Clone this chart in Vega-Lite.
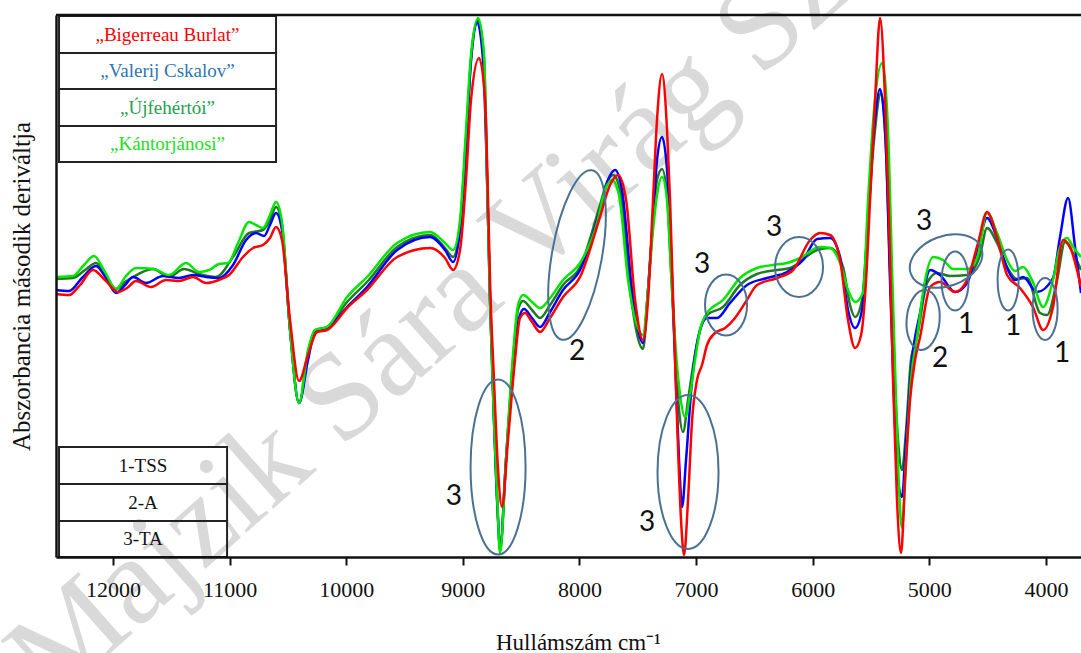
{
"$schema":"https://vega.github.io/schema/vega-lite/v6.json",
"width":1025,"height":542,"autosize":"none",
"padding":{"left":56,"top":15,"right":0,"bottom":96},
"background":"white",
"config":{"view":{"stroke":null}},
"encoding":{
 "x":{"field":"wn","type":"quantitative","scale":{"domain":[12489,3699],"nice":false,"zero":false},
  "axis":{"zindex":1,"values":[12000,11000,10000,9000,8000,7000,6000,5000,4000],"format":"d","grid":false,"domainColor":"#111","domainWidth":2.5,"tickColor":"#111","tickWidth":2,"tickSize":8,"labelFont":"Liberation Serif","labelFontSize":22,"labelColor":"#111","labelPadding":14,"title":"Hullámszám cm⁻¹","titleFont":"Liberation Serif","titleFontSize":23,"titleFontWeight":"normal","titleColor":"#111","titleX":522,"titleY":92,"titleBaseline":"alphabetic"}},
 "y":{"field":"val","type":"quantitative","scale":{"domain":[-267,275],"nice":false,"zero":false},
  "axis":{"zindex":1,"ticks":false,"labels":false,"grid":false,"domainColor":"#111","domainWidth":2.5,"title":"Abszorbancia második deriváltja","titleFont":"Liberation Serif","titleFontSize":25,"titleFontWeight":"normal","titleColor":"#111","titlePadding":22}}
},
"layer":[
 {"data":{"values":[{"wn":12738,"val":-386,"t":"Majzik Sára Virág Sz"}]},
  "mark":{"type":"text","align":"left","baseline":"middle","angle":-41.5,"font":"Liberation Serif","fontSize":125,"color":"#d9d9d9"},
  "encoding":{"text":{"field":"t"}}},
 {"data":{"values":[
{"s":"UJ","wn":12489,"val":11},{"s":"UJ","wn":12343,"val":12},{"s":"UJ","wn":12240,"val":20},{"s":"UJ","wn":12146,"val":27},{"s":"UJ","wn":12060,"val":14},{"s":"UJ","wn":11974,"val":1},{"s":"UJ","wn":11897,"val":8},{"s":"UJ","wn":11828,"val":13},{"s":"UJ","wn":11657,"val":21},{"s":"UJ","wn":11520,"val":13},{"s":"UJ","wn":11391,"val":21},{"s":"UJ","wn":11262,"val":16},{"s":"UJ","wn":11117,"val":13},{"s":"UJ","wn":10971,"val":33},{"s":"UJ","wn":10834,"val":57},{"s":"UJ","wn":10714,"val":60},{"s":"UJ","wn":10654,"val":70},{"s":"UJ","wn":10602,"val":83},{"s":"UJ","wn":10551,"val":65},{"s":"UJ","wn":10482,"val":-40},{"s":"UJ","wn":10405,"val":-113},{"s":"UJ","wn":10328,"val":-65},{"s":"UJ","wn":10268,"val":-40},{"s":"UJ","wn":10165,"val":-37},{"s":"UJ","wn":9993,"val":-12},{"s":"UJ","wn":9822,"val":8},{"s":"UJ","wn":9564,"val":43},{"s":"UJ","wn":9281,"val":55},{"s":"UJ","wn":9153,"val":42},{"s":"UJ","wn":9084,"val":33},{"s":"UJ","wn":9024,"val":65},{"s":"UJ","wn":8973,"val":150},{"s":"UJ","wn":8930,"val":230},{"s":"UJ","wn":8869,"val":270},{"s":"UJ","wn":8818,"val":230},{"s":"UJ","wn":8792,"val":110},{"s":"UJ","wn":8767,"val":-10},{"s":"UJ","wn":8733,"val":-130},{"s":"UJ","wn":8698,"val":-230},{"s":"UJ","wn":8681,"val":-261},{"s":"UJ","wn":8630,"val":-170},{"s":"UJ","wn":8570,"val":-70},{"s":"UJ","wn":8527,"val":-20},{"s":"UJ","wn":8484,"val":-11},{"s":"UJ","wn":8407,"val":-20},{"s":"UJ","wn":8338,"val":-28},{"s":"UJ","wn":8252,"val":-15},{"s":"UJ","wn":8141,"val":5},{"s":"UJ","wn":7995,"val":23},{"s":"UJ","wn":7824,"val":85},{"s":"UJ","wn":7764,"val":108},{"s":"UJ","wn":7712,"val":115},{"s":"UJ","wn":7652,"val":100},{"s":"UJ","wn":7566,"val":0},{"s":"UJ","wn":7455,"val":-59},{"s":"UJ","wn":7412,"val":0},{"s":"UJ","wn":7369,"val":70},{"s":"UJ","wn":7335,"val":110},{"s":"UJ","wn":7292,"val":121},{"s":"UJ","wn":7249,"val":95},{"s":"UJ","wn":7215,"val":20},{"s":"UJ","wn":7180,"val":-60},{"s":"UJ","wn":7146,"val":-120},{"s":"UJ","wn":7112,"val":-142},{"s":"UJ","wn":7069,"val":-110},{"s":"UJ","wn":7017,"val":-70},{"s":"UJ","wn":6966,"val":-40},{"s":"UJ","wn":6906,"val":-25},{"s":"UJ","wn":6769,"val":-17},{"s":"UJ","wn":6623,"val":5},{"s":"UJ","wn":6477,"val":16},{"s":"UJ","wn":6305,"val":20},{"s":"UJ","wn":6194,"val":22},{"s":"UJ","wn":5962,"val":40},{"s":"UJ","wn":5851,"val":42},{"s":"UJ","wn":5740,"val":23},{"s":"UJ","wn":5680,"val":-15},{"s":"UJ","wn":5637,"val":-27},{"s":"UJ","wn":5577,"val":-10},{"s":"UJ","wn":5525,"val":70},{"s":"UJ","wn":5474,"val":150},{"s":"UJ","wn":5414,"val":197},{"s":"UJ","wn":5371,"val":140},{"s":"UJ","wn":5337,"val":20},{"s":"UJ","wn":5302,"val":-80},{"s":"UJ","wn":5268,"val":-150},{"s":"UJ","wn":5234,"val":-180},{"s":"UJ","wn":5199,"val":-140},{"s":"UJ","wn":5157,"val":-70},{"s":"UJ","wn":5105,"val":-47},{"s":"UJ","wn":5019,"val":7},{"s":"UJ","wn":4933,"val":17},{"s":"UJ","wn":4822,"val":14},{"s":"UJ","wn":4676,"val":15},{"s":"UJ","wn":4565,"val":35},{"s":"UJ","wn":4505,"val":62},{"s":"UJ","wn":4419,"val":47},{"s":"UJ","wn":4333,"val":23},{"s":"UJ","wn":4248,"val":11},{"s":"UJ","wn":4162,"val":12},{"s":"UJ","wn":4050,"val":-23},{"s":"UJ","wn":3990,"val":-25},{"s":"UJ","wn":3904,"val":10},{"s":"UJ","wn":3836,"val":48},{"s":"UJ","wn":3767,"val":37},{"s":"UJ","wn":3699,"val":20},
{"s":"VC","wn":12489,"val":0},{"s":"VC","wn":12377,"val":-1},{"s":"VC","wn":12266,"val":12},{"s":"VC","wn":12146,"val":24},{"s":"VC","wn":12060,"val":12},{"s":"VC","wn":11974,"val":-3},{"s":"VC","wn":11897,"val":5},{"s":"VC","wn":11828,"val":13},{"s":"VC","wn":11717,"val":7},{"s":"VC","wn":11571,"val":14},{"s":"VC","wn":11434,"val":12},{"s":"VC","wn":11314,"val":15},{"s":"VC","wn":11202,"val":13},{"s":"VC","wn":11091,"val":12},{"s":"VC","wn":10971,"val":25},{"s":"VC","wn":10859,"val":50},{"s":"VC","wn":10774,"val":57},{"s":"VC","wn":10705,"val":54},{"s":"VC","wn":10654,"val":65},{"s":"VC","wn":10602,"val":77},{"s":"VC","wn":10551,"val":60},{"s":"VC","wn":10482,"val":-40},{"s":"VC","wn":10405,"val":-113},{"s":"VC","wn":10328,"val":-70},{"s":"VC","wn":10268,"val":-42},{"s":"VC","wn":10165,"val":-38},{"s":"VC","wn":9993,"val":-17},{"s":"VC","wn":9822,"val":3},{"s":"VC","wn":9564,"val":40},{"s":"VC","wn":9281,"val":53},{"s":"VC","wn":9153,"val":40},{"s":"VC","wn":9084,"val":28},{"s":"VC","wn":9024,"val":60},{"s":"VC","wn":8973,"val":140},{"s":"VC","wn":8930,"val":230},{"s":"VC","wn":8878,"val":268},{"s":"VC","wn":8827,"val":230},{"s":"VC","wn":8792,"val":110},{"s":"VC","wn":8767,"val":-10},{"s":"VC","wn":8733,"val":-130},{"s":"VC","wn":8698,"val":-230},{"s":"VC","wn":8681,"val":-258},{"s":"VC","wn":8630,"val":-170},{"s":"VC","wn":8570,"val":-80},{"s":"VC","wn":8518,"val":-28},{"s":"VC","wn":8476,"val":-19},{"s":"VC","wn":8407,"val":-28},{"s":"VC","wn":8338,"val":-37},{"s":"VC","wn":8252,"val":-22},{"s":"VC","wn":8141,"val":0},{"s":"VC","wn":7995,"val":20},{"s":"VC","wn":7824,"val":80},{"s":"VC","wn":7755,"val":110},{"s":"VC","wn":7695,"val":120},{"s":"VC","wn":7635,"val":100},{"s":"VC","wn":7549,"val":0},{"s":"VC","wn":7455,"val":-53},{"s":"VC","wn":7412,"val":0},{"s":"VC","wn":7369,"val":70},{"s":"VC","wn":7335,"val":130},{"s":"VC","wn":7292,"val":153},{"s":"VC","wn":7249,"val":120},{"s":"VC","wn":7215,"val":40},{"s":"VC","wn":7180,"val":-70},{"s":"VC","wn":7146,"val":-170},{"s":"VC","wn":7120,"val":-217},{"s":"VC","wn":7086,"val":-170},{"s":"VC","wn":7034,"val":-90},{"s":"VC","wn":6966,"val":-40},{"s":"VC","wn":6906,"val":-28},{"s":"VC","wn":6820,"val":-28},{"s":"VC","wn":6709,"val":-13},{"s":"VC","wn":6563,"val":5},{"s":"VC","wn":6391,"val":12},{"s":"VC","wn":6220,"val":18},{"s":"VC","wn":6082,"val":30},{"s":"VC","wn":5962,"val":51},{"s":"VC","wn":5851,"val":52},{"s":"VC","wn":5765,"val":33},{"s":"VC","wn":5697,"val":-20},{"s":"VC","wn":5637,"val":-38},{"s":"VC","wn":5577,"val":-20},{"s":"VC","wn":5525,"val":70},{"s":"VC","wn":5474,"val":160},{"s":"VC","wn":5422,"val":201},{"s":"VC","wn":5371,"val":140},{"s":"VC","wn":5337,"val":10},{"s":"VC","wn":5302,"val":-110},{"s":"VC","wn":5268,"val":-190},{"s":"VC","wn":5234,"val":-207},{"s":"VC","wn":5199,"val":-150},{"s":"VC","wn":5148,"val":-70},{"s":"VC","wn":5079,"val":-23},{"s":"VC","wn":4993,"val":20},{"s":"VC","wn":4908,"val":15},{"s":"VC","wn":4779,"val":-2},{"s":"VC","wn":4676,"val":7},{"s":"VC","wn":4582,"val":43},{"s":"VC","wn":4505,"val":72},{"s":"VC","wn":4419,"val":52},{"s":"VC","wn":4333,"val":22},{"s":"VC","wn":4265,"val":10},{"s":"VC","wn":4196,"val":13},{"s":"VC","wn":4076,"val":-2},{"s":"VC","wn":3939,"val":12},{"s":"VC","wn":3879,"val":53},{"s":"VC","wn":3810,"val":92},{"s":"VC","wn":3750,"val":43},{"s":"VC","wn":3699,"val":-3},
{"s":"KA","wn":12489,"val":13},{"s":"KA","wn":12343,"val":14},{"s":"KA","wn":12249,"val":25},{"s":"KA","wn":12163,"val":34},{"s":"KA","wn":12069,"val":18},{"s":"KA","wn":11974,"val":1},{"s":"KA","wn":11889,"val":14},{"s":"KA","wn":11803,"val":22},{"s":"KA","wn":11649,"val":21},{"s":"KA","wn":11520,"val":15},{"s":"KA","wn":11374,"val":27},{"s":"KA","wn":11262,"val":18},{"s":"KA","wn":11177,"val":20},{"s":"KA","wn":11091,"val":26},{"s":"KA","wn":11014,"val":27},{"s":"KA","wn":10928,"val":47},{"s":"KA","wn":10834,"val":68},{"s":"KA","wn":10774,"val":65},{"s":"KA","wn":10714,"val":62},{"s":"KA","wn":10654,"val":75},{"s":"KA","wn":10602,"val":88},{"s":"KA","wn":10551,"val":68},{"s":"KA","wn":10482,"val":-40},{"s":"KA","wn":10405,"val":-113},{"s":"KA","wn":10328,"val":-60},{"s":"KA","wn":10268,"val":-40},{"s":"KA","wn":10165,"val":-37},{"s":"KA","wn":9993,"val":-7},{"s":"KA","wn":9822,"val":13},{"s":"KA","wn":9564,"val":47},{"s":"KA","wn":9281,"val":58},{"s":"KA","wn":9153,"val":47},{"s":"KA","wn":9084,"val":40},{"s":"KA","wn":9024,"val":70},{"s":"KA","wn":8973,"val":160},{"s":"KA","wn":8930,"val":235},{"s":"KA","wn":8869,"val":272},{"s":"KA","wn":8818,"val":235},{"s":"KA","wn":8792,"val":110},{"s":"KA","wn":8767,"val":-10},{"s":"KA","wn":8733,"val":-130},{"s":"KA","wn":8698,"val":-230},{"s":"KA","wn":8681,"val":-263},{"s":"KA","wn":8630,"val":-170},{"s":"KA","wn":8570,"val":-65},{"s":"KA","wn":8527,"val":-15},{"s":"KA","wn":8484,"val":-5},{"s":"KA","wn":8407,"val":-12},{"s":"KA","wn":8338,"val":-18},{"s":"KA","wn":8252,"val":-8},{"s":"KA","wn":8141,"val":10},{"s":"KA","wn":7995,"val":27},{"s":"KA","wn":7849,"val":67},{"s":"KA","wn":7781,"val":100},{"s":"KA","wn":7721,"val":110},{"s":"KA","wn":7661,"val":95},{"s":"KA","wn":7583,"val":10},{"s":"KA","wn":7455,"val":-45},{"s":"KA","wn":7412,"val":0},{"s":"KA","wn":7369,"val":60},{"s":"KA","wn":7335,"val":95},{"s":"KA","wn":7292,"val":113},{"s":"KA","wn":7249,"val":90},{"s":"KA","wn":7215,"val":20},{"s":"KA","wn":7180,"val":-50},{"s":"KA","wn":7137,"val":-105},{"s":"KA","wn":7094,"val":-127},{"s":"KA","wn":7052,"val":-105},{"s":"KA","wn":7009,"val":-70},{"s":"KA","wn":6966,"val":-40},{"s":"KA","wn":6906,"val":-23},{"s":"KA","wn":6769,"val":-10},{"s":"KA","wn":6623,"val":12},{"s":"KA","wn":6477,"val":22},{"s":"KA","wn":6340,"val":25},{"s":"KA","wn":6220,"val":27},{"s":"KA","wn":6108,"val":32},{"s":"KA","wn":5937,"val":43},{"s":"KA","wn":5851,"val":42},{"s":"KA","wn":5765,"val":27},{"s":"KA","wn":5697,"val":0},{"s":"KA","wn":5637,"val":-12},{"s":"KA","wn":5569,"val":-3},{"s":"KA","wn":5525,"val":90},{"s":"KA","wn":5474,"val":180},{"s":"KA","wn":5405,"val":227},{"s":"KA","wn":5354,"val":160},{"s":"KA","wn":5319,"val":20},{"s":"KA","wn":5285,"val":-110},{"s":"KA","wn":5259,"val":-200},{"s":"KA","wn":5234,"val":-238},{"s":"KA","wn":5199,"val":-170},{"s":"KA","wn":5157,"val":-90},{"s":"KA","wn":5105,"val":-47},{"s":"KA","wn":5036,"val":10},{"s":"KA","wn":4968,"val":33},{"s":"KA","wn":4882,"val":30},{"s":"KA","wn":4796,"val":21},{"s":"KA","wn":4676,"val":21},{"s":"KA","wn":4590,"val":32},{"s":"KA","wn":4505,"val":77},{"s":"KA","wn":4419,"val":57},{"s":"KA","wn":4333,"val":30},{"s":"KA","wn":4265,"val":19},{"s":"KA","wn":4196,"val":23},{"s":"KA","wn":4119,"val":10},{"s":"KA","wn":4024,"val":-17},{"s":"KA","wn":3939,"val":10},{"s":"KA","wn":3879,"val":43},{"s":"KA","wn":3819,"val":52},{"s":"KA","wn":3767,"val":43},{"s":"KA","wn":3699,"val":33},
{"s":"BB","wn":12489,"val":-4},{"s":"BB","wn":12377,"val":-5},{"s":"BB","wn":12283,"val":5},{"s":"BB","wn":12172,"val":20},{"s":"BB","wn":12069,"val":10},{"s":"BB","wn":11957,"val":-2},{"s":"BB","wn":11880,"val":2},{"s":"BB","wn":11803,"val":9},{"s":"BB","wn":11674,"val":3},{"s":"BB","wn":11545,"val":10},{"s":"BB","wn":11434,"val":9},{"s":"BB","wn":11314,"val":13},{"s":"BB","wn":11202,"val":7},{"s":"BB","wn":11091,"val":10},{"s":"BB","wn":11005,"val":15},{"s":"BB","wn":10885,"val":33},{"s":"BB","wn":10799,"val":42},{"s":"BB","wn":10714,"val":45},{"s":"BB","wn":10654,"val":52},{"s":"BB","wn":10602,"val":63},{"s":"BB","wn":10551,"val":50},{"s":"BB","wn":10482,"val":-30},{"s":"BB","wn":10405,"val":-91},{"s":"BB","wn":10328,"val":-65},{"s":"BB","wn":10251,"val":-42},{"s":"BB","wn":10165,"val":-40},{"s":"BB","wn":9993,"val":-18},{"s":"BB","wn":9822,"val":0},{"s":"BB","wn":9564,"val":33},{"s":"BB","wn":9281,"val":42},{"s":"BB","wn":9153,"val":32},{"s":"BB","wn":9084,"val":20},{"s":"BB","wn":9024,"val":40},{"s":"BB","wn":8973,"val":110},{"s":"BB","wn":8930,"val":190},{"s":"BB","wn":8861,"val":232},{"s":"BB","wn":8809,"val":190},{"s":"BB","wn":8784,"val":90},{"s":"BB","wn":8767,"val":10},{"s":"BB","wn":8733,"val":-90},{"s":"BB","wn":8698,"val":-180},{"s":"BB","wn":8664,"val":-217},{"s":"BB","wn":8613,"val":-150},{"s":"BB","wn":8553,"val":-70},{"s":"BB","wn":8510,"val":-28},{"s":"BB","wn":8467,"val":-23},{"s":"BB","wn":8407,"val":-32},{"s":"BB","wn":8338,"val":-42},{"s":"BB","wn":8252,"val":-28},{"s":"BB","wn":8141,"val":-7},{"s":"BB","wn":7995,"val":13},{"s":"BB","wn":7824,"val":73},{"s":"BB","wn":7738,"val":105},{"s":"BB","wn":7669,"val":115},{"s":"BB","wn":7600,"val":90},{"s":"BB","wn":7523,"val":-10},{"s":"BB","wn":7455,"val":-50},{"s":"BB","wn":7412,"val":-10},{"s":"BB","wn":7369,"val":90},{"s":"BB","wn":7335,"val":170},{"s":"BB","wn":7292,"val":216},{"s":"BB","wn":7249,"val":160},{"s":"BB","wn":7223,"val":90},{"s":"BB","wn":7197,"val":-10},{"s":"BB","wn":7163,"val":-130},{"s":"BB","wn":7129,"val":-230},{"s":"BB","wn":7103,"val":-265},{"s":"BB","wn":7069,"val":-210},{"s":"BB","wn":7034,"val":-130},{"s":"BB","wn":6992,"val":-90},{"s":"BB","wn":6949,"val":-75},{"s":"BB","wn":6906,"val":-55},{"s":"BB","wn":6837,"val":-43},{"s":"BB","wn":6751,"val":-38},{"s":"BB","wn":6666,"val":-28},{"s":"BB","wn":6580,"val":-13},{"s":"BB","wn":6477,"val":5},{"s":"BB","wn":6305,"val":12},{"s":"BB","wn":6168,"val":20},{"s":"BB","wn":6022,"val":50},{"s":"BB","wn":5937,"val":57},{"s":"BB","wn":5851,"val":55},{"s":"BB","wn":5765,"val":30},{"s":"BB","wn":5697,"val":-30},{"s":"BB","wn":5637,"val":-58},{"s":"BB","wn":5585,"val":-45},{"s":"BB","wn":5542,"val":10},{"s":"BB","wn":5508,"val":90},{"s":"BB","wn":5465,"val":190},{"s":"BB","wn":5422,"val":272},{"s":"BB","wn":5379,"val":190},{"s":"BB","wn":5345,"val":70},{"s":"BB","wn":5311,"val":-90},{"s":"BB","wn":5277,"val":-210},{"s":"BB","wn":5242,"val":-263},{"s":"BB","wn":5208,"val":-190},{"s":"BB","wn":5165,"val":-110},{"s":"BB","wn":5122,"val":-70},{"s":"BB","wn":5079,"val":-47},{"s":"BB","wn":4993,"val":3},{"s":"BB","wn":4908,"val":8},{"s":"BB","wn":4779,"val":-2},{"s":"BB","wn":4676,"val":10},{"s":"BB","wn":4582,"val":47},{"s":"BB","wn":4505,"val":78},{"s":"BB","wn":4419,"val":53},{"s":"BB","wn":4333,"val":15},{"s":"BB","wn":4222,"val":2},{"s":"BB","wn":4111,"val":-17},{"s":"BB","wn":4024,"val":-40},{"s":"BB","wn":3939,"val":-17},{"s":"BB","wn":3853,"val":50},{"s":"BB","wn":3793,"val":43},{"s":"BB","wn":3699,"val":3}
 ]},
  "mark":{"type":"line","interpolate":"monotone","strokeWidth":2.5},
  "encoding":{"color":{"field":"s","type":"nominal","scale":{"domain":["UJ","VC","KA","BB"],"range":["#217a21","#0000ff","#00e600","#ff0000"]},"legend":null}}},
 {"data":{"values":[{"wn":8698,"val":-177}]},"mark":{"type":"point","shape":"M0,-87.5C15.19,-87.5 27.5,-48.33 27.5,0C27.5,48.33 15.19,87.5 0,87.5C-15.19,87.5 -27.5,48.33 -27.5,0C-27.5,-48.33 -15.19,-87.5 0,-87.5Z","size":4,"filled":false,"stroke":"#4a7194","strokeWidth":2,"opacity":1}},
 {"data":{"values":[{"wn":7069,"val":-182}]},"mark":{"type":"point","shape":"M0,-77C16.85,-77 30.5,-42.53 30.5,0C30.5,42.53 16.85,77 0,77C-16.85,77 -30.5,42.53 -30.5,0C-30.5,-42.53 -16.85,-77 0,-77Z","size":4,"filled":false,"stroke":"#4a7194","strokeWidth":2,"opacity":1}},
 {"data":{"values":[{"wn":8021,"val":35}]},"mark":{"type":"point","shape":"M0,-86C13.81,-86 25,-47.5 25,0C25,47.5 13.81,86 0,86C-13.81,86 -25,47.5 -25,0C-25,-47.5 -13.81,-86 0,-86Z","size":4,"angle":10,"filled":false,"stroke":"#4a7194","strokeWidth":2,"opacity":1}},
 {"data":{"values":[{"wn":6743,"val":-15}]},"mark":{"type":"point","shape":"M0,-30.5C11.6,-30.5 21,-16.85 21,0C21,16.85 11.6,30.5 0,30.5C-11.6,30.5 -21,16.85 -21,0C-21,-16.85 -11.6,-30.5 0,-30.5Z","size":4,"filled":false,"stroke":"#4a7194","strokeWidth":2,"opacity":1}},
 {"data":{"values":[{"wn":6117,"val":23}]},"mark":{"type":"point","shape":"M0,-30C13.26,-30 24,-16.57 24,0C24,16.57 13.26,30 0,30C-13.26,30 -24,16.57 -24,0C-24,-16.57 -13.26,-30 0,-30Z","size":4,"filled":false,"stroke":"#4a7194","strokeWidth":2,"opacity":1}},
 {"data":{"values":[{"wn":4856,"val":29}]},"mark":{"type":"point","shape":"M0,-37.5C13.81,-37.5 25,-20.71 25,0C25,20.71 13.81,37.5 0,37.5C-13.81,37.5 -25,20.71 -25,0C-25,-20.71 -13.81,-37.5 0,-37.5Z","size":4,"angle":70,"filled":false,"stroke":"#4a7194","strokeWidth":2,"opacity":1}},
 {"data":{"values":[{"wn":4779,"val":9}]},"mark":{"type":"point","shape":"M0,-29.5C7.46,-29.5 13.5,-16.29 13.5,0C13.5,16.29 7.46,29.5 0,29.5C-7.46,29.5 -13.5,16.29 -13.5,0C-13.5,-16.29 -7.46,-29.5 0,-29.5Z","size":4,"filled":false,"stroke":"#4a7194","strokeWidth":2,"opacity":1}},
 {"data":{"values":[{"wn":5053,"val":-30}]},"mark":{"type":"point","shape":"M0,-30C9.11,-30 16.5,-16.57 16.5,0C16.5,16.57 9.11,30 0,30C-9.11,30 -16.5,16.57 -16.5,0C-16.5,-16.57 -9.11,-30 0,-30Z","size":4,"angle":5,"filled":false,"stroke":"#4a7194","strokeWidth":2,"opacity":1}},
 {"data":{"values":[{"wn":4324,"val":10}]},"mark":{"type":"point","shape":"M0,-30.5C5.8,-30.5 10.5,-16.85 10.5,0C10.5,16.85 5.8,30.5 0,30.5C-5.8,30.5 -10.5,16.85 -10.5,0C-10.5,-16.85 -5.8,-30.5 0,-30.5Z","size":4,"filled":false,"stroke":"#4a7194","strokeWidth":2,"opacity":1}},
 {"data":{"values":[{"wn":4007,"val":-19}]},"mark":{"type":"point","shape":"M0,-31C6.9,-31 12.5,-17.12 12.5,0C12.5,17.12 6.9,31 0,31C-6.9,31 -12.5,17.12 -12.5,0C-12.5,-17.12 -6.9,-31 0,-31Z","size":4,"filled":false,"stroke":"#4a7194","strokeWidth":2,"opacity":1}},
 {"data":{"values":[
   {"t":"3","wn":9076,"val":-207},{"t":"2","wn":8021,"val":-62},{"t":"3","wn":7420,"val":-233},{"t":"3","wn":6949,"val":25},{"t":"3","wn":6331,"val":62},{"t":"3","wn":5045,"val":68},{"t":"1","wn":4685,"val":-35},{"t":"2","wn":4908,"val":-69},{"t":"1","wn":4282,"val":-37},{"t":"1","wn":3861,"val":-64}]},
  "mark":{"type":"text","align":"center","baseline":"middle","font":"Lato","fontSize":28,"color":"#111"},
  "encoding":{"text":{"field":"t"}}},
 {"data":{"values":[
   {"wn":12463,"wn2":10602,"val":274,"val2":237},{"wn":12463,"wn2":10602,"val":237,"val2":201},{"wn":12463,"wn2":10602,"val":201,"val2":164},{"wn":12463,"wn2":10602,"val":164,"val2":128},
   {"wn":12463,"wn2":11022,"val":-157,"val2":-194},{"wn":12463,"wn2":11022,"val":-194,"val2":-231},{"wn":12463,"wn2":11022,"val":-231,"val2":-267}]},
  "mark":{"type":"rect","filled":false,"stroke":"#222","strokeWidth":2},
  "encoding":{"x2":{"field":"wn2"},"y2":{"field":"val2"}}},
 {"data":{"values":[
   {"t":"„Bigerreau Burlat”","s":"BB","wn":11533,"val":255.5},{"t":"„Valerij Cskalov”","s":"VC","wn":11533,"val":219},{"t":"„Újfehértói”","s":"UJ","wn":11533,"val":182.5},{"t":"„Kántorjánosi”","s":"KA","wn":11533,"val":146}]},
  "mark":{"type":"text","align":"center","baseline":"middle","font":"Liberation Serif","fontSize":19},
  "encoding":{"text":{"field":"t"},"fill":{"field":"s","type":"nominal","scale":{"domain":["BB","VC","UJ","KA"],"range":["#ff0000","#2e75b6","#22a04b","#22dd22"]},"legend":null}}},
 {"data":{"values":[
   {"t":"1-TSS","wn":11743,"val":-175.5},{"t":"2-A","wn":11743,"val":-212.5},{"t":"3-TA","wn":11743,"val":-249}]},
  "mark":{"type":"text","align":"center","baseline":"middle","font":"Liberation Serif","fontSize":19,"color":"#111"},
  "encoding":{"text":{"field":"t"}}},
 {"data":{"values":[{"wn":12489,"wn2":3699,"val":275}]},
  "mark":{"type":"rule","strokeWidth":2.5,"color":"#111"},
  "encoding":{"x2":{"field":"wn2"}}}
]
}
